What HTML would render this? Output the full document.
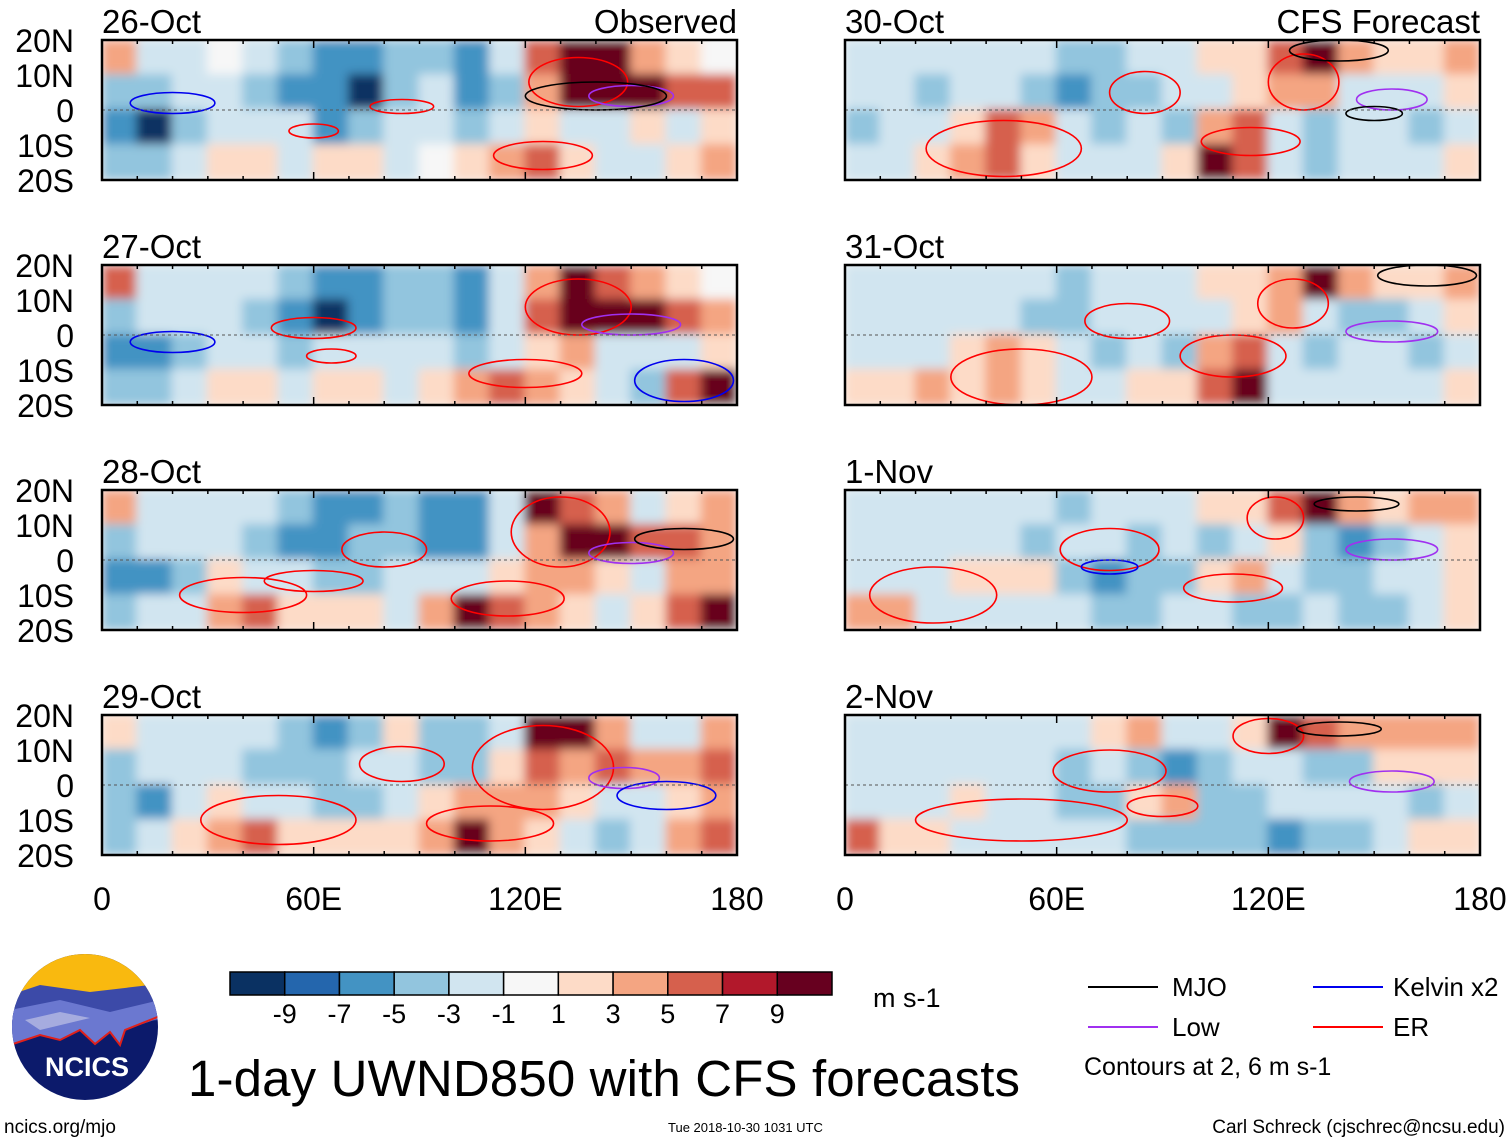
<!DOCTYPE html>
<html><head><meta charset="utf-8"><style>
body{margin:0;background:#fff;width:1510px;height:1142px;overflow:hidden;font-family:"Liberation Sans",sans-serif}
svg{display:block}
</style></head><body>
<svg id="s" width="1510" height="1142" viewBox="0 0 1510 1142" xmlns="http://www.w3.org/2000/svg">
<defs><filter id="bl" x="0" y="0" width="1" height="1"><feGaussianBlur stdDeviation="5"/></filter></defs>
<g id="panels"></g>
<g id="cb"></g>
<text x="873" y="1007" font-size="27">m s-1</text>
<text x="188" y="1096" font-size="51" textLength="832">1-day UWND850 with CFS forecasts</text>
<text x="4" y="1133" font-size="19">ncics.org/mjo</text>
<text x="668" y="1132" font-size="13">Tue 2018-10-30 1031 UTC</text>
<text x="1505" y="1133" font-size="19" text-anchor="end">Carl Schreck (cjschrec@ncsu.edu)</text>
<g>
<clipPath id="lc"><circle cx="85" cy="1027" r="73"/></clipPath>
<g clip-path="url(#lc)">
<rect x="10" y="950" width="150" height="160" fill="#0c1a6b"/>
<rect x="10" y="950" width="150" height="45" fill="#f9b90f"/>
<path d="M10 995 L40 985 L90 992 L150 985 L160 990 L160 1020 L10 1030Z" fill="#3c4aa8"/>
<path d="M10 1010 L60 1000 L110 1012 L160 1000 L160 1018 L125 1030 L120 1045 L110 1032 L95 1044 L80 1030 L60 1040 L40 1035 L10 1045Z" fill="#6b78d0"/>
<path d="M25 1020 L60 1012 L90 1018 L40 1030Z" fill="#a6acdf"/>
<path d="M10 1045 L40 1035 L60 1040 L80 1030 L95 1044 L110 1032 L120 1045 L125 1030 L160 1016" fill="none" stroke="#e0201a" stroke-width="2"/>
</g>
<text x="87" y="1076" font-size="27" font-weight="bold" fill="#fff" text-anchor="middle">NCICS</text>
</g>
<g font-size="26">
<line x1="1088" y1="987" x2="1158" y2="987" stroke="#000" stroke-width="2"/><text x="1172" y="996">MJO</text>
<line x1="1313" y1="987" x2="1383" y2="987" stroke="#0000ee" stroke-width="2"/><text x="1393" y="996">Kelvin x2</text>
<line x1="1088" y1="1027" x2="1158" y2="1027" stroke="#a030f0" stroke-width="2"/><text x="1172" y="1036">Low</text>
<line x1="1313" y1="1027" x2="1383" y2="1027" stroke="#ff0000" stroke-width="2"/><text x="1393" y="1036">ER</text>
<text x="1084" y="1075" font-size="25">Contours at 2, 6 m s-1</text>
</g>
</svg>
<script>
const panelTitles=["26-Oct","27-Oct","28-Oct","29-Oct","30-Oct","31-Oct","1-Nov","2-Nov"];
const lonCenters=[5,15,25,35,45,55,65,75,85,95,105,115,125,135,145,155,165,175];
const latRows=[15,5,-5,-15];
const p0=[[3,-1,-2,0,-1,-3,-5,-5,-3,-3,-4,-2,5,9,7,3,1,0],[-3,-3,-1,-1,-3,-4,-5,-7,-3,-2,-4,-3,3,9,9,7,4,5],[-4,-7,-3,-2,-1,-2,-4,-3,-2,-1,-3,-1,1,-1,-2,1,-1,2],[-3,-3,-1,2,1,-2,1,2,-1,0,2,3,5,1,-2,-1,2,3]];
const p1=[[5,-1,-2,-1,-1,-3,-4,-5,-3,-3,-4,-2,3,7,5,3,1,0],[-3,-2,-1,-1,-3,-5,-7,-5,-3,-3,-4,-2,5,9,9,7,5,3],[-4,-5,-3,-1,-2,-3,-2,-2,-1,-1,-3,-1,1,3,-1,-2,-2,2],[-3,-3,-1,1,1,-1,1,2,-1,1,3,5,3,1,-1,-3,5,9]];
const p2=[[3,-1,-2,-1,-1,-3,-5,-5,-3,-4,-4,-1,7,5,3,-1,1,3],[-3,-2,-2,-1,-3,-5,-5,-3,-3,-4,-4,-1,3,7,9,5,5,3],[-4,-4,-3,1,-2,-1,-3,-3,-2,-1,-1,1,3,3,1,-1,3,3],[-3,-2,-1,3,5,1,1,2,-1,3,7,5,3,1,-1,1,5,7]];
const p3=[[1,-1,-2,-1,-1,-3,-5,-3,1,-3,-3,-1,7,7,3,-1,-1,3],[-3,-2,-2,-1,-3,-3,-3,-1,-2,-3,-3,1,5,3,5,3,3,5],[-3,-4,-2,1,-1,-1,-3,-3,-1,1,3,3,3,1,-1,-1,1,3],[-3,-2,1,3,5,1,1,1,1,3,7,3,1,-1,-3,-1,3,5]];
const p4=[[-1,-1,-2,-1,-1,-1,-3,-3,-1,-1,1,1,5,9,3,1,1,3],[-1,-1,-3,-1,-1,-3,-5,-3,-3,-1,-1,1,3,3,-1,-1,-1,1],[-3,-2,-1,1,5,3,-1,-3,-1,-3,3,5,-1,-3,-1,-1,-3,-1],[-1,-1,1,3,5,1,-1,-1,-1,1,7,5,-1,-3,-1,-1,-1,1]];
const p5=[[-1,-1,-1,-1,-1,-1,-3,-1,-1,-1,1,1,3,7,3,1,1,3],[-1,-1,-1,-1,-1,-3,-3,-1,-1,-1,-1,1,3,-1,-3,-3,-1,1],[-1,-1,-1,1,3,1,-1,-3,-1,-3,3,5,-1,-3,-1,-1,-3,-1],[1,1,3,1,3,1,-1,-1,1,1,5,7,-1,-1,-1,-1,-1,1]];
const p6=[[-1,-1,-1,-1,-1,-1,-3,-1,-1,-1,1,1,5,7,3,1,3,3],[-1,-1,-1,-1,-1,-3,-1,-1,-3,-1,-3,-1,1,-3,-5,-3,-1,1],[-1,-1,-1,1,1,1,-3,-5,-3,-3,1,3,-1,-3,-3,-1,-1,1],[3,3,-1,-1,-1,-1,-1,-3,-3,-1,-1,-3,-3,-1,-3,-3,-1,1]];
const p7=[[-1,-1,-1,-1,-1,-1,-1,1,3,-1,-1,1,7,5,3,3,3,3],[-1,-1,-1,-1,-1,-1,-3,-1,-3,-5,-3,-1,-1,-3,-3,1,1,1],[-1,-1,-1,1,-1,-1,-3,-3,1,3,-3,-3,-1,-1,-1,-1,-3,-1],[5,1,1,-1,-1,-1,-1,-1,-3,-3,-3,-3,-5,-3,-3,-1,1,1]];
const panelValues=[p0,p1,p2,p3,p4,p5,p6,p7];
// contours: [panel, lon, lat, lonRadius, latRadius, type]
const contours=[[0,135,8,14,7,"er"],[0,150,4,12,3,"low"],[0,140,4,20,4,"mjo"],[0,85,1,9,2,"er"],[0,125,-13,14,4,"er"],[0,60,-6,7,2,"er"],[0,20,2,12,3,"kel"],
[1,135,8,15,8,"er"],[1,150,3,14,3,"low"],[1,60,2,12,3,"er"],[1,65,-6,7,2,"er"],[1,120,-11,16,4,"er"],[1,165,-13,14,6,"kel"],[1,20,-2,12,3,"kel"],
[2,130,8,14,10,"er"],[2,150,2,12,3,"low"],[2,80,3,12,5,"er"],[2,115,-11,16,5,"er"],[2,60,-6,14,3,"er"],[2,40,-10,18,5,"er"],[2,165,6,14,3,"mjo"],
[3,125,5,20,12,"er"],[3,148,2,10,3,"low"],[3,85,6,12,5,"er"],[3,110,-11,18,5,"er"],[3,50,-10,22,7,"er"],[3,160,-3,14,4,"kel"],
[4,130,8,10,8,"er"],[4,155,3,10,3,"low"],[4,150,-1,8,2,"mjo"],[4,85,5,10,6,"er"],[4,115,-9,14,4,"er"],[4,45,-11,22,8,"er"],[4,140,17,14,3,"mjo"],
[5,127,9,10,7,"er"],[5,155,1,13,3,"low"],[5,80,4,12,5,"er"],[5,110,-6,15,6,"er"],[5,50,-12,20,8,"er"],[5,165,17,14,3,"mjo"],
[6,122,12,8,6,"er"],[6,155,3,13,3,"low"],[6,75,3,14,6,"er"],[6,110,-8,14,4,"er"],[6,25,-10,18,8,"er"],[6,75,-2,8,2,"kel"],[6,145,16,12,2,"mjo"],
[7,120,14,10,5,"er"],[7,155,1,12,3,"low"],[7,75,4,16,6,"er"],[7,90,-6,10,3,"er"],[7,50,-10,30,6,"er"],[7,140,16,12,2,"mjo"]];
const levels=[-9,-7,-5,-3,-1,1,3,5,7,9];
const palette=["#0a3162","#2466ad","#4393c3","#92c5de","#d1e5f0","#f7f7f7","#fddbc7","#f4a582","#d6604d","#b2182b","#67001f"];
const ctColors={er:"#ff0000",mjo:"#000000",low:"#a030f0",kel:"#0000ee"};
const NS="http://www.w3.org/2000/svg";
const PW=635,PH=140,PX=[102,845],PY=[40,265,490,715];
function color(v){v=v*1.3;let i=0;while(i<levels.length&&v>levels[i])i++;return palette[i];}
function mk(t,a,p){const e=document.createElementNS(NS,t);for(const k in a)e.setAttribute(k,a[k]);p.appendChild(e);return e;}
const root=document.getElementById("panels");
panelValues.forEach((vals,pi)=>{
 const col=pi<4?0:1,row=pi%4,x0=PX[col],y0=PY[row];
 const xs=lon=>x0+lon/180*PW, ys=lat=>y0+(20-lat)/40*PH;
 const g=mk("g",{},root);
 
 
 mk("clipPath",{id:"c"+pi},g).appendChild(mk("rect",{x:x0,y:y0,width:PW,height:PH},g));
 const hm=mk("g",{"clip-path":"url(#c"+pi+")"},g);
 const bg=mk("g",{filter:"url(#bl)"},hm);
 mk("rect",{x:x0-20,y:y0-20,width:PW+40,height:PH+40,fill:"#f7f7f7"},bg);
 vals.forEach((r,ri)=>r.forEach((v,ci)=>{
  const c=mk("rect",{x:xs(lonCenters[ci]-5)-1,y:ys(latRows[ri]+5)-1,width:PW/18+2,height:PH/4+2,fill:color(v)},bg);
  
  
 }));
 contours.filter(c=>c[0]===pi).forEach(c=>{
  const e=mk("ellipse",{cx:xs(c[1]),cy:ys(c[2]),rx:c[3]/180*PW,ry:c[4]/40*PH,fill:"none",stroke:ctColors[c[5]],"stroke-width":1.6},hm);
  
  
 });
 mk("line",{x1:x0,x2:x0+PW,y1:ys(0),y2:ys(0),stroke:"#555","stroke-dasharray":"3,3","stroke-width":1},g);
 mk("rect",{x:x0,y:y0,width:PW,height:PH,fill:"none",stroke:"#000","stroke-width":2.5},g);
 for(let l=0;l<=180;l+=10){const tl=l%60===0?8:4;mk("line",{x1:xs(l),x2:xs(l),y1:y0,y2:y0+tl,stroke:"#000","stroke-width":1.5},g);mk("line",{x1:xs(l),x2:xs(l),y1:y0+PH,y2:y0+PH-tl,stroke:"#000","stroke-width":1.5},g);}
 const t=mk("text",{x:x0,y:y0-7,"font-size":33},g);t.textContent=panelTitles[pi];
 
 
 if(row===0){const h=mk("text",{x:x0+PW,y:y0-7,"font-size":33,"text-anchor":"end"},g);h.textContent=col?"CFS Forecast":"Observed";
  
  }
 if(col===0){["20N","10N","0","10S","20S"].forEach((s,i)=>{const tt=mk("text",{x:74,y:y0+i*35+12,"font-size":32,"text-anchor":"end"},g);tt.textContent=s;
  
  });}
 if(row===3){["0","60E","120E","180"].forEach((s,i)=>{const tt=mk("text",{x:xs(i*60),y:910,"font-size":32,"text-anchor":"middle"},g);tt.textContent=s;
  
  });}
});
const cb=document.getElementById("cb");
const bw=(832-230)/11;
palette.forEach((c,i)=>{const r=mk("rect",{x:230+i*bw,y:972,width:bw,height:23,fill:c,stroke:"#000","stroke-width":1.5},cb);
 
 });
levels.forEach((l,i)=>{const t=mk("text",{x:230+(i+1)*bw,y:1023,"font-size":27,"text-anchor":"middle"},cb);t.textContent=l;
 
 });
</script>
</body></html>
